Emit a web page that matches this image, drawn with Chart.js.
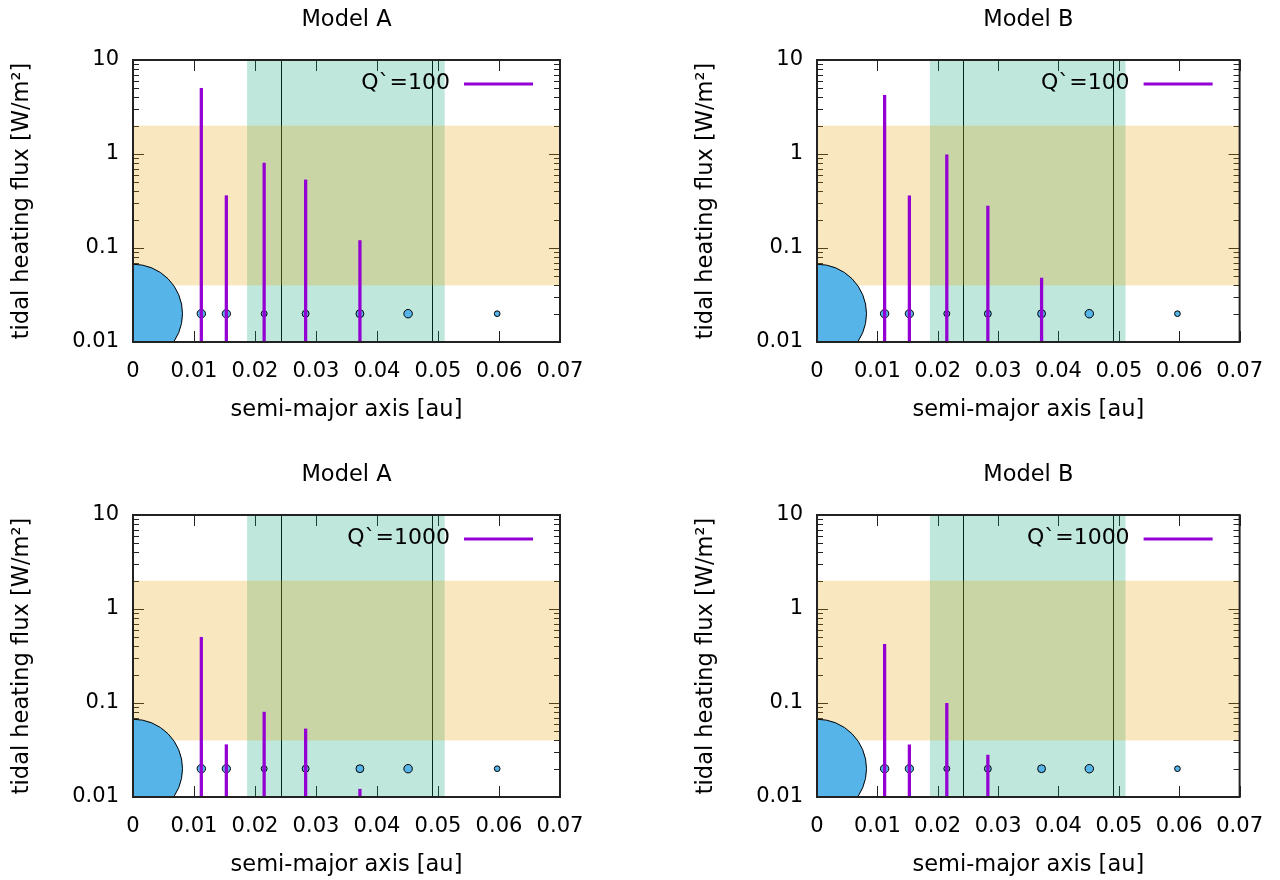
<!DOCTYPE html>
<html><head><meta charset="utf-8">
<script src="https://cdn.jsdelivr.net/npm/chart.js@4.4.0/dist/chart.umd.min.js"></script>
<style>
html,body{margin:0;padding:0;background:#fff;overflow:hidden;width:1280px;height:880px;}
canvas{position:absolute;}
</style></head><body>
<canvas id="c0" width="640" height="425" style="left:0px;top:0px"></canvas>
<canvas id="c1" width="596" height="425" style="left:684px;top:0px"></canvas>
<canvas id="c2" width="640" height="425" style="left:0px;top:455px"></canvas>
<canvas id="c3" width="596" height="425" style="left:684px;top:455px"></canvas>
<script>
// ---------------- data ----------------
const planetNames   = ['b', 'c', 'd', 'e', 'f', 'g', 'h'];
const semiMajorAxis = [0.0112, 0.0153, 0.0215, 0.0283, 0.0372, 0.0451, 0.0597]; // au
const planetRadius  = [1.12, 1.10, 0.79, 0.92, 1.05, 1.13, 0.76];               // relative marker size
const starPosition  = 0;
const starRadius    = 13.2;                                                     // relative marker size
const markerLevel   = 0.02;                                                     // y of the body markers

const fluxModelA_Q100  = [5.0, 0.36, 0.80, 0.53, 0.12, null, null];
const fluxModelB_Q100  = [4.2, 0.36, 0.98, 0.28, 0.048, null, null];
const fluxModelA_Q1000 = [0.50, 0.036, 0.080, 0.053, 0.0121, null, null];
const fluxModelB_Q1000 = [0.42, 0.036, 0.099, 0.028, null, null, null];

const habitableZone = [0.0187, 0.0511];   // au (green band)
const fluxBand      = [0.04, 2];          // W/m^2 (orange band)
const refLines      = [0.0242, 0.0490];   // au (vertical lines)

const xTicks      = [0, 0.01, 0.02, 0.03, 0.04, 0.05, 0.06, 0.07];
const xTickLabels = ['0', '0.01', '0.02', '0.03', '0.04', '0.05', '0.06', '0.07'];
const yTicks      = [0.01, 0.1, 1, 10];
const yTickLabels = ['0.01', '0.1', '1', '10'];

const panelTitles  = ['Model A', 'Model B', 'Model A', 'Model B'];
const legendLabels = ['Q`=100', 'Q`=100', 'Q`=1000', 'Q`=1000'];
const panelFlux    = [fluxModelA_Q100, fluxModelB_Q100, fluxModelA_Q1000, fluxModelB_Q1000];

// ---------------- style ----------------
const FONT = "'DejaVu Sans', sans-serif";
const FS_TICK = 21;
const FS_TEXT = 22.5;
const FS_KEY = 22;
const SIZE_SCALE = 3.75;
const PURPLE = '#9400d3';
const BLUE = '#56b4e9';

Chart.defaults.font.family = FONT;
Chart.defaults.font.size = FS_TICK;
Chart.defaults.color = '#000';

const decor = {
  id: 'decor',
  beforeDatasetsDraw(chart) {
    const {ctx, chartArea: a, scales: {x, y}} = chart;
    ctx.save();
    // tick marks (inward, mirrored)
    ctx.strokeStyle = '#222';
    ctx.lineWidth = 1;
    ctx.beginPath();
    xTicks.forEach(v => {
      const px = Math.round(x.getPixelForValue(v)) + 0.5;
      ctx.moveTo(px, a.bottom); ctx.lineTo(px, a.bottom - 11);
      ctx.moveTo(px, a.top); ctx.lineTo(px, a.top + 11);
    });
    yTicks.forEach((v, i) => {
      const py = Math.round(y.getPixelForValue(v)) + 0.5;
      ctx.moveTo(a.left, py); ctx.lineTo(a.left + 11, py);
      ctx.moveTo(a.right, py); ctx.lineTo(a.right - 11, py);
      if (i < yTicks.length - 1) {
        for (let m = 2; m <= 9; m++) {
          const pm = Math.round(y.getPixelForValue(m * v)) + 0.5;
          ctx.moveTo(a.left, pm); ctx.lineTo(a.left + 6, pm);
          ctx.moveTo(a.right, pm); ctx.lineTo(a.right - 6, pm);
        }
      }
    });
    ctx.stroke();
    // reference vertical lines
    ctx.strokeStyle = '#000';
    ctx.beginPath();
    refLines.forEach(v => {
      const px = Math.round(x.getPixelForValue(v)) + 0.5;
      ctx.moveTo(px, a.top); ctx.lineTo(px, a.bottom);
    });
    ctx.stroke();
    // translucent bands
    const x0 = x.getPixelForValue(habitableZone[0]);
    const x1 = x.getPixelForValue(habitableZone[1]);
    ctx.fillStyle = 'rgba(0,158,115,0.25)';
    ctx.fillRect(x0, a.top, x1 - x0, a.bottom - a.top);
    const y0 = y.getPixelForValue(fluxBand[1]);
    const y1 = y.getPixelForValue(fluxBand[0]);
    ctx.fillStyle = 'rgba(230,159,0,0.25)';
    ctx.fillRect(a.left, y0, a.right - a.left, y1 - y0);
    ctx.restore();
  },
  afterDatasetsDraw(chart) {
    const {ctx, chartArea: a} = chart;
    ctx.save();
    ctx.strokeStyle = '#222';
    ctx.lineWidth = 2;
    ctx.strokeRect(a.left, a.top, a.right - a.left, a.bottom - a.top);
    // legend: text then line sample
    const label = chart.data.datasets[0].label;
    const ly = a.top + 24;
    ctx.font = FS_KEY + 'px ' + FONT;
    ctx.fillStyle = '#000';
    ctx.textAlign = 'right';
    ctx.textBaseline = 'middle';
    ctx.fillText(label, a.right - 110, ly - 1);
    ctx.strokeStyle = PURPLE;
    ctx.lineWidth = 3;
    ctx.beginPath();
    ctx.moveTo(a.right - 96, ly); ctx.lineTo(a.right - 27, ly);
    ctx.stroke();
    ctx.restore();
  }
};

function makePanel(idx) {
  const canvas = document.getElementById('c' + idx);
  const flux = panelFlux[idx];
  const rightPad = canvas.width - 560;
  new Chart(canvas, {
    type: 'scatter',
    data: {
      datasets: [
        {
          type: 'bar',
          label: legendLabels[idx],
          data: semiMajorAxis.map((a, i) => ({x: a, y: flux[i]})),
          backgroundColor: PURPLE,
          borderWidth: 0,
          barThickness: 2.6,
          grouped: false
        },
        {
          type: 'scatter',
          label: 'planets',
          data: semiMajorAxis.map(a => ({x: a, y: markerLevel})),
          pointRadius: planetRadius.map(r => r * SIZE_SCALE),
          pointHoverRadius: planetRadius.map(r => r * SIZE_SCALE),
          backgroundColor: BLUE,
          borderColor: '#000',
          borderWidth: 1
        },
        {
          type: 'scatter',
          label: 'star',
          data: [{x: starPosition, y: markerLevel}],
          pointRadius: starRadius * SIZE_SCALE,
          pointHoverRadius: starRadius * SIZE_SCALE,
          backgroundColor: BLUE,
          borderColor: '#000',
          borderWidth: 1,
          clip: 0
        }
      ]
    },
    options: {
      responsive: false,
      animation: false,
      devicePixelRatio: 1,
      events: [],
      layout: {autoPadding: false, padding: {top: 0, left: 0, right: rightPad, bottom: 0}},
      plugins: {
        legend: {display: false},
        tooltip: {enabled: false},
        title: {
          display: true,
          text: panelTitles[idx],
          fullSize: false,
          color: '#000',
          font: {size: FS_TEXT, weight: 'normal', family: FONT},
          padding: {top: 6.7, bottom: 26.3}
        }
      },
      scales: {
        x: {
          type: 'linear',
          min: 0, max: 0.07,
          offset: false,
          afterBuildTicks: s => { s.ticks = xTicks.map(v => ({value: v})); },
          afterFit: s => { s.height = 83; },
          grid: {display: false, drawTicks: false, offset: false},
          border: {display: false},
          ticks: {
            padding: 17,
            autoSkip: false,
            maxRotation: 0,
            color: '#000',
            callback: (v, i) => xTickLabels[i]
          },
          title: {
            display: true,
            text: 'semi-major axis [au]',
            color: '#000',
            font: {size: FS_TEXT},
            padding: {top: 0, bottom: 1.0}
          }
        },
        y: {
          type: 'logarithmic',
          min: 0.01, max: 10,
          afterBuildTicks: s => { s.ticks = yTicks.map(v => ({value: v})); },
          afterFit: s => { s.width = 133; },
          grid: {display: false, drawTicks: false},
          border: {display: false},
          ticks: {
            padding: 14,
            autoSkip: false,
            color: '#000',
            callback: (v) => { const k = yTicks.findIndex(t => Math.abs(t - v) < t * 1e-6); return k >= 0 ? yTickLabels[k] : ''; }
          },
          title: {
            display: true,
            text: 'tidal heating flux [W/m²]',
            color: '#000',
            font: {size: FS_TEXT},
            padding: {top: 8.5, bottom: 0}
          }
        }
      }
    },
    plugins: [decor]
  });
}

[0, 1, 2, 3].forEach(makePanel);
</script>
</body></html>
